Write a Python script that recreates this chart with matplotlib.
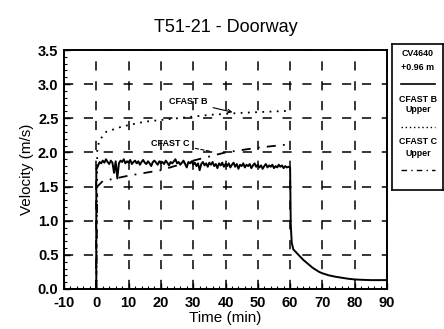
import matplotlib
matplotlib.use("Agg")
import matplotlib.pyplot as plt
import numpy as np

plt.rcParams['font.family'] = ['Liberation Sans', 'DejaVu Sans']

# ---------------- data ----------------
title = "T51-21 - Doorway"
xlabel = "Time (min)"
ylabel = "Velocity (m/s)"
xticks = [-10, 0, 10, 20, 30, 40, 50, 60, 70, 80, 90]
yticks = [0.0, 0.5, 1.0, 1.5, 2.0, 2.5, 3.0, 3.5]

# measured CV4640 +0.96 m: before test, steady phase (0.5-min samples), decay
meas_pre_t = [-10, 0]
meas_pre_v = [0.0, 0.0]
meas_steady_v = [
    1.80, 1.86, 1.84, 1.88, 1.85, 1.90, 1.86, 1.83, 1.88, 1.85,
    1.70, 1.87, 1.62, 1.84, 1.88, 1.86, 1.90, 1.84, 1.87, 1.85,
    1.89, 1.83, 1.86, 1.88, 1.84, 1.87, 1.82, 1.86, 1.89, 1.85,
    1.83, 1.87, 1.84, 1.80, 1.86, 1.88, 1.85, 1.82, 1.87, 1.84,
    1.86, 1.83, 1.88, 1.85, 1.81, 1.86, 1.84, 1.87, 1.90, 1.84,
    1.86, 1.82, 1.85, 1.88, 1.83, 1.78, 1.86, 1.84, 1.87, 1.82,
    1.85, 1.80, 1.84, 1.74, 1.83, 1.86, 1.81, 1.84, 1.79, 1.85,
    1.82, 1.86, 1.80, 1.83, 1.77, 1.84, 1.81, 1.85, 1.79, 1.83,
    1.80, 1.84, 1.78, 1.82, 1.85, 1.79, 1.83, 1.76, 1.82, 1.80,
    1.84, 1.78, 1.82, 1.80, 1.83, 1.77, 1.81, 1.84, 1.79, 1.82,
    1.78, 1.81, 1.76, 1.80, 1.83, 1.78, 1.81, 1.79, 1.82, 1.77,
    1.80, 1.78, 1.82, 1.79, 1.81, 1.77, 1.80, 1.78, 1.79, 1.78,
]
meas_decay_t = [60.0, 60.2, 60.5, 61, 62, 63, 64, 65, 66, 67, 68, 69, 70,
                72, 74, 76, 78, 80, 82, 85, 88, 90]
meas_decay_v = [1.78, 0.95, 0.68, 0.58, 0.53, 0.48, 0.43, 0.39, 0.35, 0.31,
                0.28, 0.25, 0.23, 0.20, 0.18, 0.165, 0.15, 0.14, 0.135,
                0.13, 0.13, 0.13]

cfastB_t = [0, 0.3, 1, 3, 8, 15, 25, 35, 45, 60]
cfastB_v = [0.0, 2.05, 2.18, 2.30, 2.38, 2.45, 2.50, 2.55, 2.58, 2.61]

cfastC_t = [0, 0.3, 2, 10, 20, 30, 40, 50, 60]
cfastC_v = [0.0, 1.50, 1.58, 1.66, 1.74, 1.88, 2.00, 2.07, 2.12]

# ---------------- figure ----------------
fig = plt.figure(figsize=(4.44, 3.29), dpi=100)
ax = fig.add_axes([64/444, 1 - 289/329, (387 - 64)/444, (289 - 50)/329])

steady_t = np.arange(1, len(meas_steady_v) + 1) * 0.5
meas_t = np.concatenate([meas_pre_t, [0.0], steady_t[:-1], meas_decay_t])
meas_v = np.concatenate([meas_pre_v, [1.75], meas_steady_v[:-1], meas_decay_v])

ax.plot(meas_t, meas_v, color='black', lw=1.4, zorder=4)
ax.plot(cfastB_t, cfastB_v, color='black', lw=1.3, ls=(0, (1, 3)), zorder=3)
ax.plot(cfastC_t, cfastC_v, color='black', lw=1.3, ls=(0, (5, 4, 1, 4)), zorder=3)

ax.set_xlim(-10, 90)
ax.set_ylim(0, 3.5)
ax.set_xticks(xticks)
ax.set_yticks(yticks)
ax.set_xticklabels([str(x) for x in xticks])
ax.set_yticklabels([f"{y:.1f}" for y in yticks])
ax.set_xticks(np.arange(-10, 91, 2), minor=True)
ax.set_yticks(np.arange(0, 3.51, 0.1), minor=True)
ax.tick_params(which='major', direction='in', length=4, width=1.0, labelsize=10.5)
ax.tick_params(axis='x', which='major', pad=5)
ax.tick_params(axis='y', which='major', pad=4)
ax.tick_params(which='minor', direction='in', length=2.5, width=0.8)
for lab in ax.get_xticklabels() + ax.get_yticklabels():
    lab.set_fontweight('bold')
for s in ax.spines.values():
    s.set_linewidth(1.4)

ax.grid(True, which='major', color='black', lw=1.1, ls=(0, (6, 7)))

ax.set_title(title, fontsize=13, pad=13)
ax.set_xlabel(xlabel, fontsize=11, labelpad=1)
ax.set_ylabel(ylabel, fontsize=11, labelpad=3)

# annotations
ax.annotate("CFAST B", xy=(43, 2.58), xytext=(28.5, 2.74), fontsize=6.5,
            fontweight='bold', ha='center', va='center',
            arrowprops=dict(arrowstyle='->', lw=0.8, color='black'))
ax.annotate("CFAST C", xy=(36, 2.01), xytext=(23, 2.13), fontsize=6.5,
            fontweight='bold', ha='center', va='center',
            arrowprops=dict(arrowstyle='-', lw=0.8, color='black', ls=(0, (3, 2))))

# legend panel
lg = fig.add_axes([392/444, 1 - 190/329, 51/444, (190 - 44)/329])
lg.set_xlim(392, 443)
lg.set_ylim(190, 44)
lg.set_xticks([])
lg.set_yticks([])
for s in lg.spines.values():
    s.set_linewidth(1.2)
kw = dict(fontsize=6.4, fontweight='bold', ha='center', va='center')
lg.text(418, 54, "CV4640", **kw)
lg.text(418, 68, "+0.96 m", **kw)
lg.plot([401, 435], [84, 84], color='black', lw=1.2)
lg.text(418, 99, "CFAST B", **kw)
lg.text(418, 110, "Upper", **kw)
lg.plot([401, 435], [127, 127], color='black', lw=1.0, ls=(0, (1, 2)))
lg.text(418, 142, "CFAST C", **kw)
lg.text(418, 154, "Upper", **kw)
lg.plot([401, 435], [170, 170], color='black', lw=1.0, ls=(0, (4, 3, 1, 3)))

fig.savefig("out.png", dpi=100)
